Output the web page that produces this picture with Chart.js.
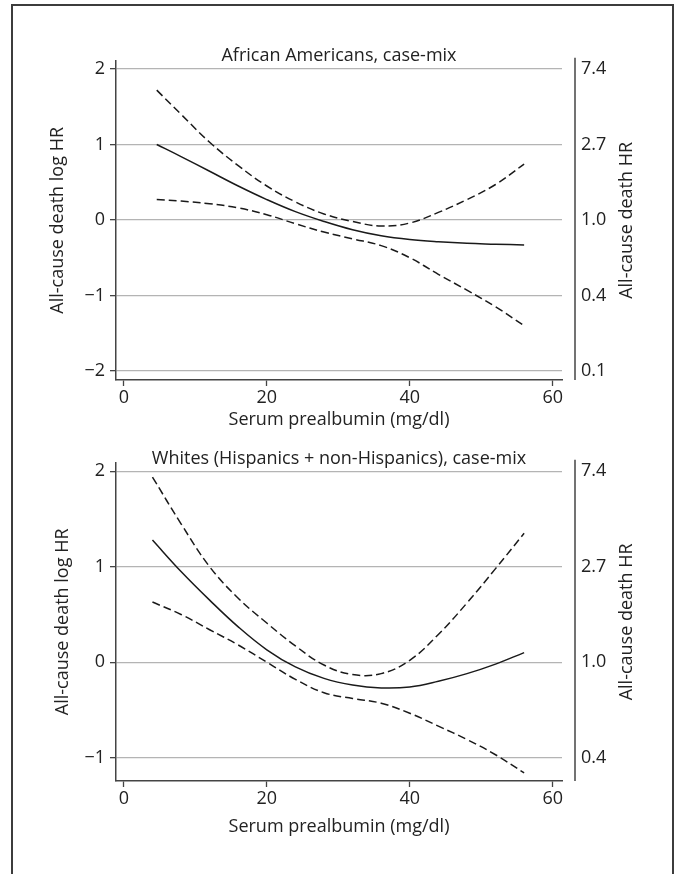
<!DOCTYPE html>
<html>
<head>
<meta charset="utf-8">
<script src="https://cdn.jsdelivr.net/npm/chart.js@4.4.1/dist/chart.umd.min.js"></script>
<style>
  html, body { margin: 0; padding: 0; background: #fff; }
  body { width: 676px; height: 874px; position: relative; overflow: hidden; }
  #frame { position: absolute; left: 11px; top: 4px; width: 659px; height: 900px;
           border: 2px solid #3c3c3c; border-bottom: none; }
  canvas { position: absolute; left: 0; }
  #c1 { top: 0; }
  #c2 { top: 437px; }
</style>
</head>
<body>
<div id="frame"></div>
<canvas id="c1" width="676" height="437"></canvas>
<canvas id="c2" width="676" height="437"></canvas>
<script>
// ---------- data ----------
const xTickValues = [0, 20, 40, 60];
const hrTickLog   = [-2, -1, 0, 1, 2];
const hrTickText  = ['0.1', '0.4', '1.0', '2.7', '7.4'];

// Panel 1: African Americans
const aaTitle = 'African Americans, case-mix';
const aaX     = [4.6, 8, 12, 16, 20, 24, 28, 32, 36, 40, 44, 48, 52, 56];
const aaEst   = [1.00, 0.84, 0.645, 0.45, 0.27, 0.11, -0.02, -0.13, -0.21, -0.26, -0.29, -0.31, -0.32, -0.33];
const aaUpper = [1.72, 1.40, 1.03, 0.72, 0.45, 0.24, 0.08, -0.02, -0.08, -0.04, 0.10, 0.27, 0.47, 0.74];
const aaLower = [0.27, 0.25, 0.215, 0.16, 0.07, -0.05, -0.16, -0.25, -0.34, -0.50, -0.72, -0.93, -1.15, -1.40];

// Panel 2: Whites (Hispanics + non-Hispanics)
const whTitle = 'Whites (Hispanics + non-Hispanics), case-mix';
const whX     = [4, 8, 12, 16, 20, 24, 28, 32, 36, 40, 44, 48, 52, 56];
const whEst   = [1.28, 0.95, 0.65, 0.37, 0.13, -0.05, -0.17, -0.24, -0.27, -0.26, -0.20, -0.12, -0.02, 0.10];
const whUpper = [1.94, 1.45, 1.00, 0.67, 0.41, 0.17, -0.03, -0.13, -0.12, 0.02, 0.29, 0.62, 0.98, 1.35];
const whLower = [0.63, 0.50, 0.34, 0.18, 0.00, -0.18, -0.32, -0.38, -0.43, -0.535, -0.67, -0.81, -0.97, -1.16];

const xTitle = 'Serum prealbumin (mg/dl)';
const yTitleLeft = 'All-cause death log HR';
const yTitleRight = 'All-cause death HR';

// ---------- drawing ----------
const FONT = "'Open Sans', 'Noto Sans', sans-serif";
const FS = 18;
const TXT = '#222';

function pts(xs, ys) { return xs.map((x, i) => ({ x: x, y: ys[i] })); }
function fmtLog(v) { return v < 0 ? '\u2212' + Math.abs(v) : String(v); }

const panelDecor = {
  id: 'panelDecor',
  afterDraw(chart, args, opts) {
    const ctx = chart.ctx, a = chart.chartArea;
    const midY = (a.top + a.bottom) / 2;
    ctx.save();
    // right HR axis line (offset from plot area)
    ctx.strokeStyle = '#444';
    ctx.lineWidth = 1.5;
    ctx.beginPath();
    ctx.moveTo(a.right + 13, a.top - 3);
    ctx.lineTo(a.right + 13, a.bottom);
    ctx.stroke();
    ctx.fillStyle = TXT;
    ctx.font = FS + 'px ' + FONT;
    ctx.textAlign = 'center';
    // panel title
    ctx.textBaseline = 'alphabetic';
    ctx.fillText(opts.text, (a.left + a.right) / 2, opts.y);
    // x axis title
    ctx.textBaseline = 'middle';
    ctx.fillText(xTitle, (a.left + a.right) / 2, opts.xTitleY);
    // left title
    ctx.save();
    ctx.translate(opts.leftTitleX, midY);
    ctx.rotate(-Math.PI / 2);
    ctx.fillText(yTitleLeft, 0, 0);
    ctx.restore();
    // right title (reads bottom-to-top)
    ctx.save();
    ctx.translate(opts.rightTitleX, midY);
    ctx.rotate(-Math.PI / 2);
    ctx.fillText(yTitleRight, 0, 0);
    ctx.restore();
    ctx.restore();
  }
};

function makePanel(id, title, xs, est, up, lo, yMin, yMax, geo) {
  const logTicks = hrTickLog.filter(v => v >= yMin && v <= yMax);
  const W = 676, H = 437;
  const line = (d, dash) => ({ data: d, borderColor: '#1a1a1a', borderWidth: 1.5,
    borderDash: dash, pointRadius: 0, tension: 0.4 });
  return new Chart(document.getElementById(id), {
    type: 'line',
    data: {
      datasets: [
        line(pts(xs, up), [8, 4]),
        line(pts(xs, est), []),
        line(pts(xs, lo), [8, 4])
      ]
    },
    options: {
      responsive: false,
      animation: false,
      events: [],
      layout: { padding: { left: geo.padL, right: geo.padR, top: geo.top, bottom: 0 } },
      plugins: {
        legend: { display: false },
        tooltip: { enabled: false },
        panelDecor: { text: title, y: geo.titleY, xTitleY: geo.xTitleY,
                      leftTitleX: geo.leftTitleX, rightTitleX: 627 }
      },
      scales: {
        x: {
          type: 'linear',
          min: -1.1, max: 61.3,
          afterBuildTicks: s => { s.ticks = xTickValues.map(v => ({ value: v })); },
          afterFit: s => { s.height = H - geo.bottom; },
          grid: { drawOnChartArea: false, tickLength: 6, tickColor: '#444', tickWidth: 1.3 },
          border: { color: '#444', width: 1.5 },
          ticks: { color: TXT, font: { family: FONT, size: FS }, padding: 1, maxRotation: 0 }
        },
        y: {
          position: 'left',
          min: yMin, max: yMax,
          afterBuildTicks: s => { s.ticks = logTicks.map(v => ({ value: v })); },
          afterFit: s => { s.width = 116 - geo.padL; },
          grid: { color: '#b4b4b4', lineWidth: 1.3, tickLength: 6, tickColor: '#444', tickWidth: 1.3 },
          border: { color: '#444', width: 1.5 },
          ticks: { color: TXT, font: { family: FONT, size: FS }, padding: 5, callback: v => fmtLog(v) }
        },
        y1: {
          position: 'right',
          min: yMin, max: yMax,
          afterBuildTicks: s => { s.ticks = logTicks.map(v => ({ value: v })); },
          afterFit: s => { s.width = (W - geo.padR) - 562; },
          grid: { display: false, drawOnChartArea: false },
          border: { display: false },
          ticks: { color: TXT, font: { family: FONT, size: FS }, padding: 11,
                   callback: v => hrTickText[hrTickLog.indexOf(v)] }
        }
      }
    },
    plugins: [panelDecor]
  });
}

makePanel('c1', aaTitle, aaX, aaEst, aaUpper, aaLower, -2.12, 2.11,
  { padL: 20, padR: 36, top: 60.7, bottom: 380, titleY: 61, xTitleY: 420, leftTitleX: 58 });
makePanel('c2', whTitle, whX, whEst, whUpper, whLower, -1.245, 2.09,
  { padL: 20, padR: 36, top: 25.7, bottom: 344, titleY: 27, xTitleY: 390, leftTitleX: 63 });
</script>
</body>
</html>
